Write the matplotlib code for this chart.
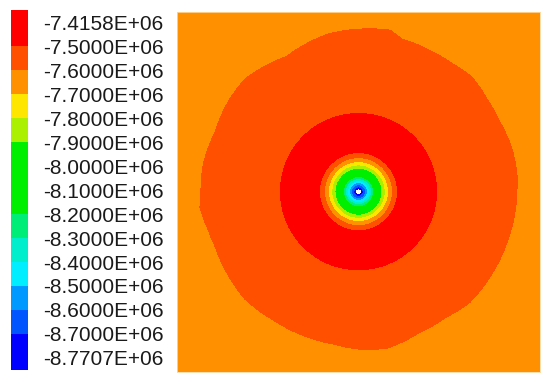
import numpy as np
import matplotlib
matplotlib.use("Agg")
import matplotlib.pyplot as plt
from matplotlib.colors import ListedColormap, BoundaryNorm

plt.rcParams['font.family'] = ['Liberation Sans', 'DejaVu Sans']

# Contour levels (Pa) and their legend labels, bottom to top
levels = [-8.7707e6, -8.7e6, -8.6e6, -8.5e6, -8.4e6, -8.3e6, -8.2e6, -8.1e6,
          -8.0e6, -7.9e6, -7.8e6, -7.7e6, -7.6e6, -7.5e6, -7.4158e6]
tick_labels = ["-8.7707E+06", "-8.7000E+06", "-8.6000E+06", "-8.5000E+06",
               "-8.4000E+06", "-8.3000E+06", "-8.2000E+06", "-8.1000E+06",
               "-8.0000E+06", "-7.9000E+06", "-7.8000E+06", "-7.7000E+06",
               "-7.6000E+06", "-7.5000E+06", "-7.4158E+06"]
band_colors = ["#0000ff", "#0055ff", "#0099ff", "#00eeff", "#00eecc", "#00ee77",
               "#00ee00", "#00ee00", "#00ee00", "#aaf000", "#ffe600", "#ff9000",
               "#ff5000", "#ff0000"]

# radial pressure profile (radius in px from the well)
ring_r = [2.7, 4.7, 7.0, 9.0, 11.0, 13.0, 15.0, 18.0, 21.0, 23.5, 26.7, 30.0,
          34.0, 39.0, 58.0, 78.0, 157.0, 300.0]
ring_p = [-8.7707e6, -8.70e6, -8.60e6, -8.50e6, -8.40e6, -8.30e6, -8.20e6,
          -8.10e6, -8.00e6, -7.90e6, -7.80e6, -7.70e6, -7.60e6, -7.50e6,
          -7.42e6, -7.50e6, -7.60e6, -7.66e6]
well_r = 2.9
inner_r = 78.0

# outer -7.6E+06 contour: radius (px) against angle (deg)
edge_theta = [0.9, 5.6, 15.5, 26.2, 35.7, 45.3, 53.5, 64.3, 74.1, 79.0, 89.5,
              101.0, 118.0, 135.3, 145.6, 157.5, 170.7, 180.9, 185.6, 194.0,
              200.8, 210.1, 223.4, 235.8, 250.9, 261.0, 270.5, 280.3, 293.6,
              304.6, 315.3, 329.1, 341.2, 352.5]
edge_r = [158.5, 159.3, 159.3, 157.6, 158.3, 161.2, 158.7, 158.1, 158.6, 164.5,
          162.5, 160.4, 153.0, 159.8, 158.2, 155.3, 157.6, 157.5, 159.3, 155.1,
          153.5, 154.4, 156.3, 154.1, 154.0, 154.5, 157.5, 159.1, 153.4,
          153.0, 157.0, 156.7, 156.9, 157.8]

# grid over the model area
x = np.linspace(-181.5, 181.5, 727)
y = np.linspace(-180.5, 179.5, 721)
X, Y = np.meshgrid(x, y)
R = np.hypot(X, Y)
TH = np.degrees(np.arctan2(Y, X)) % 360
R_edge = np.interp(TH, edge_theta, edge_r, period=360)
R_eff = np.where(R > inner_r,
                 inner_r + (R - inner_r) * (157.0 - inner_r) / (R_edge - inner_r), R)
P = np.interp(R_eff, ring_r, ring_p)
P = np.ma.masked_where(R < well_r, P)

cmap = ListedColormap(band_colors)
cmap.set_under(band_colors[0])
cmap.set_over(band_colors[-1])
norm = BoundaryNorm(levels, cmap.N)

fig = plt.figure(figsize=(5.5, 3.82), dpi=100)
ax = fig.add_axes([0.3218, 0.026, 0.66, 0.942])
cs = ax.contourf(X, Y, P, levels=levels, cmap=cmap, norm=norm, extend='both')
ax.set_xlim(x[0], x[-1])
ax.set_ylim(y[0], y[-1])
ax.set_xticks([])
ax.set_yticks([])
for sp in ax.spines.values():
    sp.set_color('#ffd8a0')
    sp.set_linewidth(0.6)

cax = fig.add_axes([0.02, 0.0314, 0.031, 0.942])
cb = fig.colorbar(cs, cax=cax, extendrect=True, extendfrac=0.036)
cb.set_ticks(levels, labels=tick_labels)
cb.outline.set_visible(False)
cax.tick_params(length=0, pad=11, labelsize=15, labelcolor='#1a1a1a')

fig.savefig('out.png', dpi=100)
